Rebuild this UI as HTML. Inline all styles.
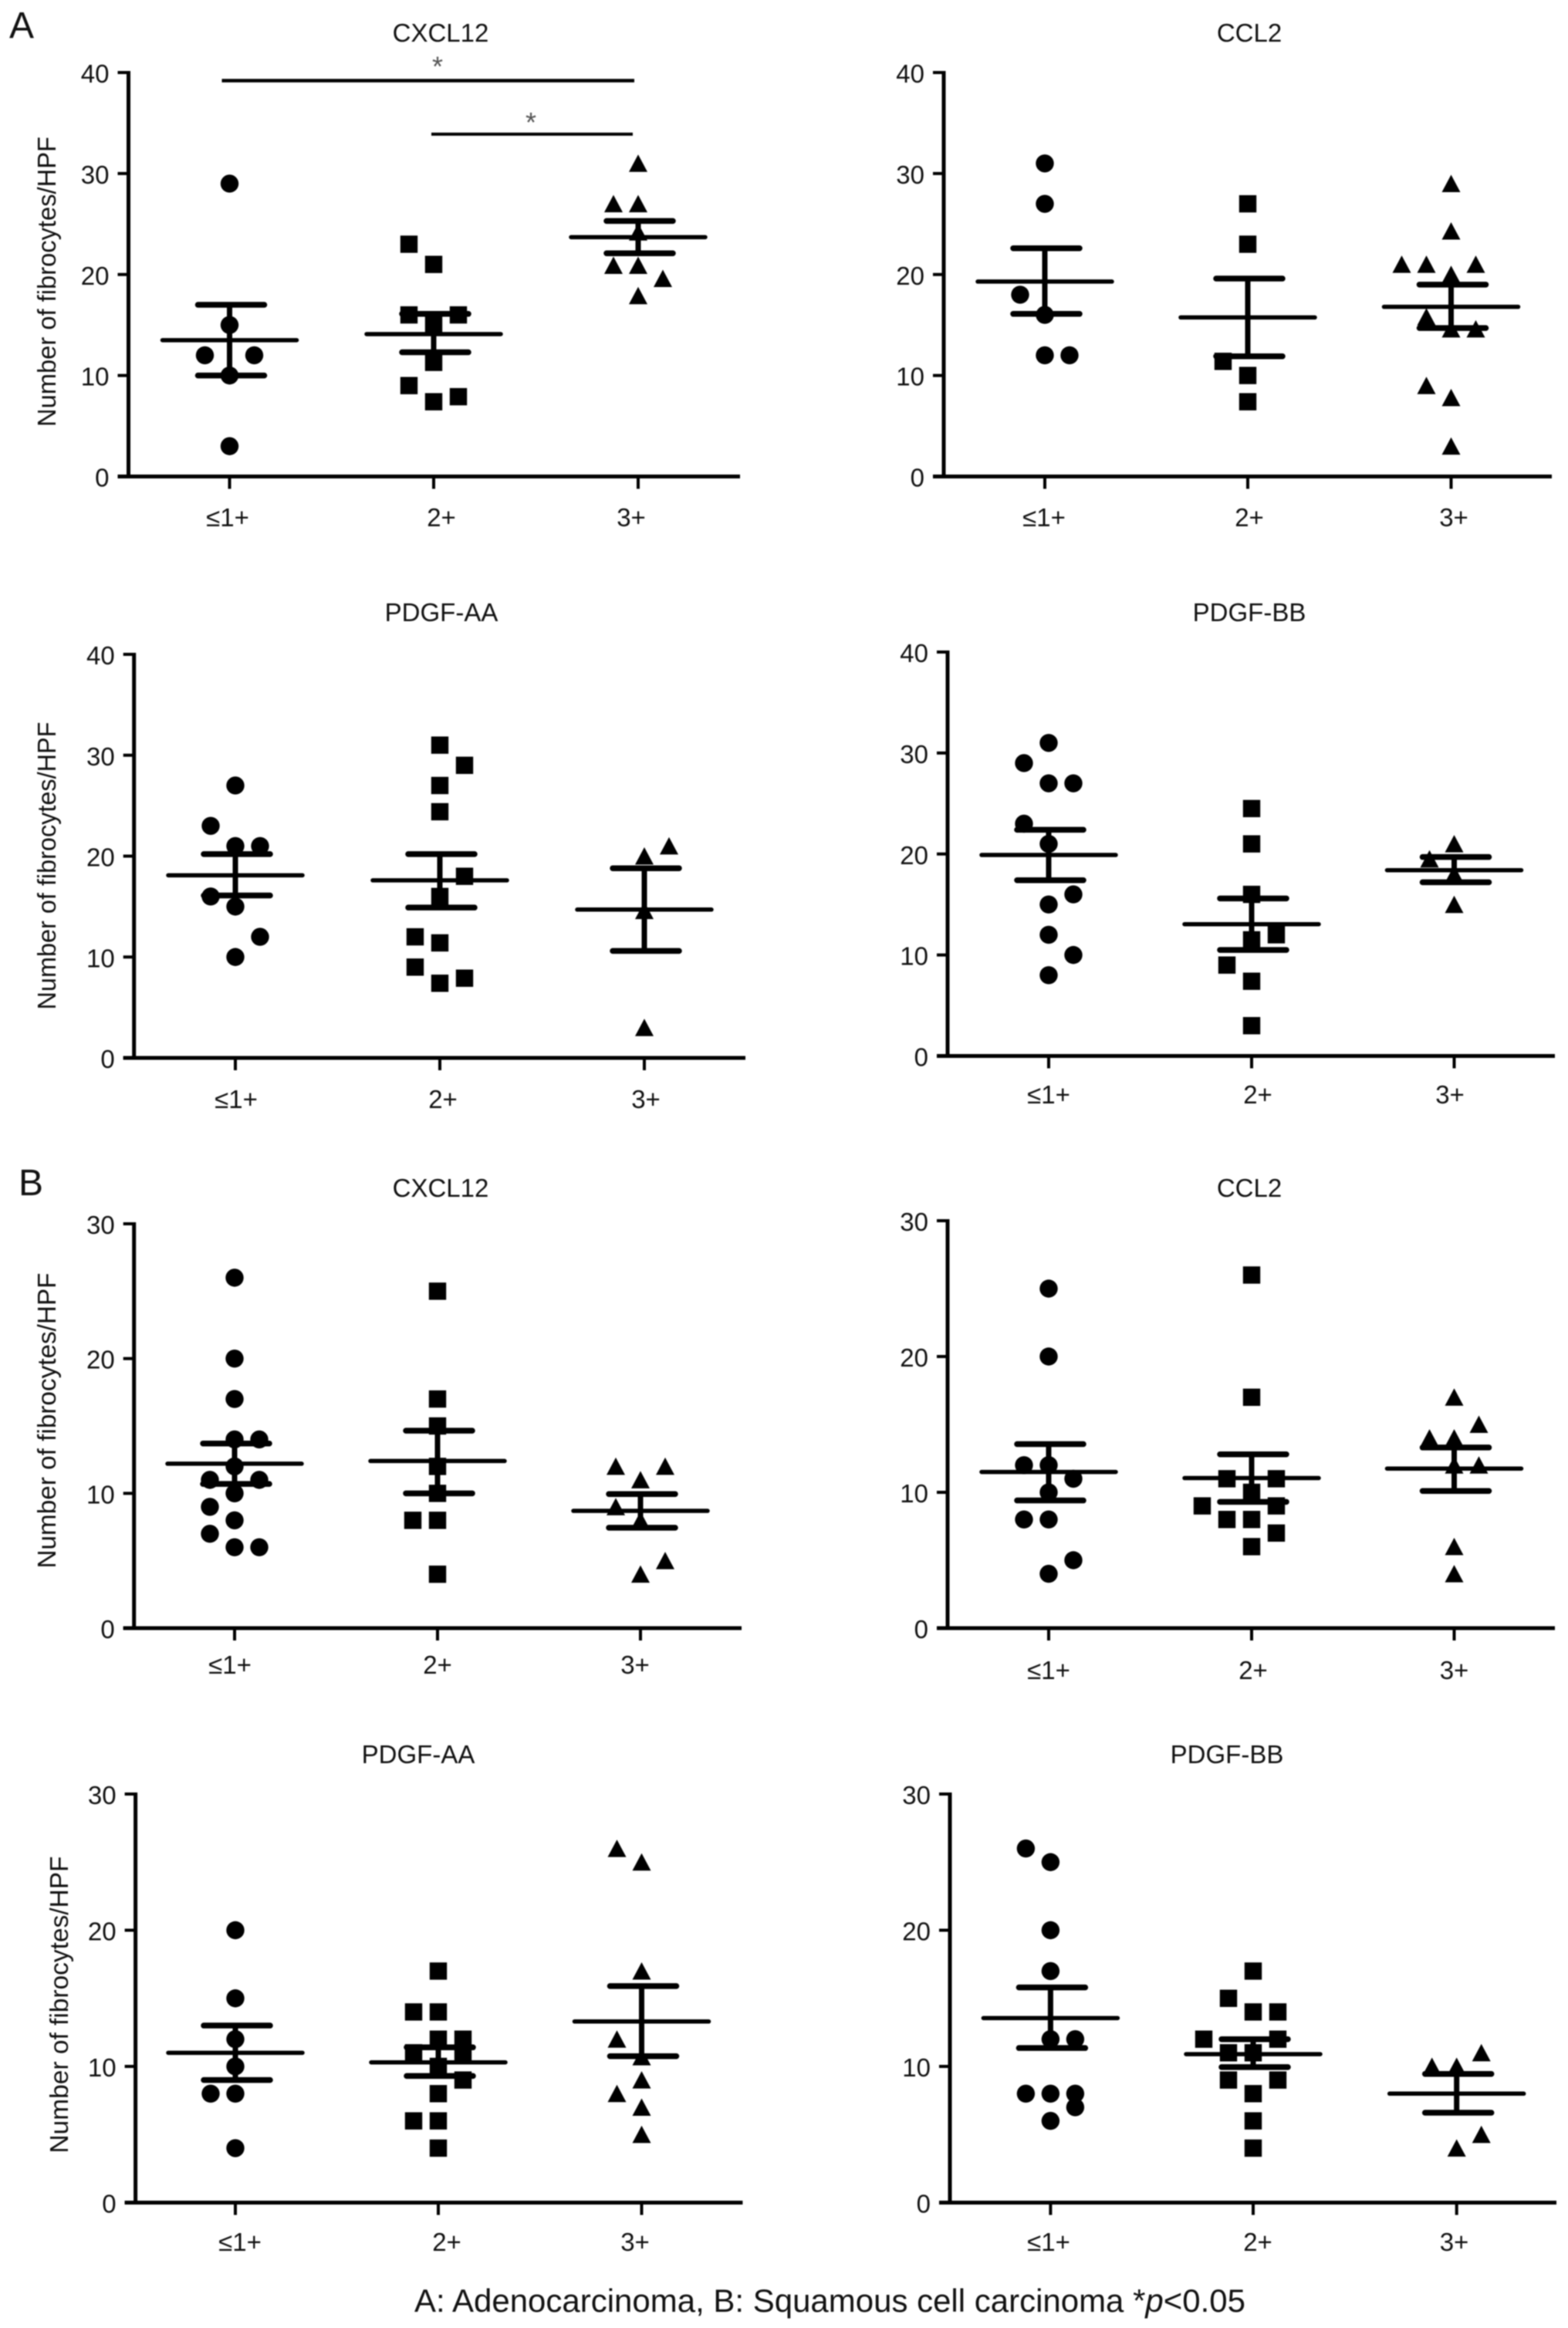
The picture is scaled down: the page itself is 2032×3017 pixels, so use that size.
<!DOCTYPE html>
<html lang="en">
<head>
<meta charset="utf-8">
<title>Fibrocyte counts by chemokine expression</title>
<style>
html,body{margin:0;padding:0;background:#fff;}
svg{display:block;filter:blur(0.9px);}
text{font-family:"Liberation Sans",sans-serif;fill:#111;}
.title,.tick-text,.cat-text{font-size:33px;}
.ylab{font-size:33px;}
</style>
</head>
<body>
<svg id="figure" xmlns="http://www.w3.org/2000/svg" width="2032" height="3017" viewBox="0 0 2032 3017">
<rect width="2032" height="3017" fill="#fff"/>
<text x="12" y="49" font-size="48">A</text>
<text x="24" y="1549" font-size="48">B</text>

<text class="title" x="571" y="54" text-anchor="middle">CXCL12</text>
<text class="title" x="1619" y="54" text-anchor="middle">CCL2</text>
<text class="title" x="572" y="805" text-anchor="middle">PDGF-AA</text>
<text class="title" x="1619" y="805" text-anchor="middle">PDGF-BB</text>
<text class="title" x="571" y="1551" text-anchor="middle">CXCL12</text>
<text class="title" x="1619" y="1551" text-anchor="middle">CCL2</text>
<text class="title" x="542" y="2285" text-anchor="middle">PDGF-AA</text>
<text class="title" x="1590" y="2285" text-anchor="middle">PDGF-BB</text>

<text class="ylab" transform="translate(72,365) rotate(-90)" text-anchor="middle" textLength="376" lengthAdjust="spacingAndGlyphs">Number of fibrocytes/HPF</text>
<text class="ylab" transform="translate(72,1122) rotate(-90)" text-anchor="middle" textLength="373" lengthAdjust="spacingAndGlyphs">Number of fibrocytes/HPF</text>
<text class="ylab" transform="translate(72,1841) rotate(-90)" text-anchor="middle" textLength="383" lengthAdjust="spacingAndGlyphs">Number of fibrocytes/HPF</text>
<text class="ylab" transform="translate(88,2598) rotate(-90)" text-anchor="middle" textLength="385" lengthAdjust="spacingAndGlyphs">Number of fibrocytes/HPF</text>

<text x="537" y="2996" font-size="42" textLength="1077" lengthAdjust="spacingAndGlyphs">A: Adenocarcinoma, B: Squamous cell carcinoma *<tspan font-style="italic">p</tspan>&lt;0.05</text>
<g id="charts"></g>
</svg>
<script>
const categories = ['≤1+', '2+', '3+'];
const ticksA = [0, 10, 20, 30, 40];
const ticksB = [0, 10, 20, 30];

/* stats arrays: mean, upper error, lower error. columns: beeswarm column of each point */
const a1LowValues = [29, 15, 12, 12, 10, 3];
const a1LowColumns = [0, 0, -1, 1, 0, 0];
const a1LowStats = [13.5, 17, 10];
const a1MidValues = [23, 21, 16, 16, 15, 11.3, 9, 7.9, 7.4];
const a1MidColumns = [-1, 0, -1, 1, 0, 0, -1, 1, 0];
const a1MidStats = [14.1, 16.1, 12.3];
const a1HighValues = [31, 27, 27, 24.2, 20.9, 20.9, 19.6, 17.9];
const a1HighColumns = [0, -1, 0, 0, -1, 0, 1, 0];
const a1HighStats = [23.7, 25.3, 22.1];

const a2LowValues = [31, 27, 18, 16, 12, 12];
const a2LowColumns = [0, 0, -1, 0, 0, 1];
const a2LowStats = [19.3, 22.6, 16.1];
const a2MidValues = [27, 23, 11.4, 10, 7.4];
const a2MidColumns = [0, 0, -1, 0, 0];
const a2MidStats = [15.75, 19.6, 11.9];
const a2HighValues = [29, 24.3, 21, 21, 21, 20, 15.8, 14.6, 14.6, 9, 7.8, 3];
const a2HighColumns = [0, 0, -2, -1, 1, 0, -1, 0, 1, -1, 0, 0];
const a2HighStats = [16.8, 19, 14.7];

const a3LowValues = [27, 23, 21, 21, 16, 15, 12, 10];
const a3LowColumns = [0, -1, 0, 1, -1, 0, 1, 0];
const a3LowStats = [18.1, 20.2, 16.1];
const a3MidValues = [31, 29, 27, 24.4, 18, 16, 12, 11.4, 9, 7.9, 7.4];
const a3MidColumns = [0, 1, 0, 0, 1, 0, -1, 0, -1, 1, 0];
const a3MidStats = [17.6, 20.2, 14.9];
const a3HighValues = [21, 20, 14.6, 3];
const a3HighColumns = [1, 0, 0, 0];
const a3HighStats = [14.7, 18.8, 10.6];

const a4LowValues = [31, 29, 27, 27, 23, 21, 16, 15, 12, 10, 8];
const a4LowColumns = [0, -1, 0, 1, -1, 0, 1, 0, 0, 1, 0];
const a4LowStats = [19.9, 22.4, 17.4];
const a4MidValues = [24.5, 21, 16, 12, 11.5, 9, 7.4, 3];
const a4MidColumns = [0, 0, 0, 1, 0, -1, 0, 0];
const a4MidStats = [13.05, 15.6, 10.5];
const a4HighValues = [21, 19.5, 18, 15];
const a4HighColumns = [0, -1, 0, 0];
const a4HighStats = [18.4, 19.7, 17.2];

const b1LowValues = [26, 20, 17, 14, 14, 12, 11, 11, 10, 9, 8, 7, 6, 6];
const b1LowColumns = [0, 0, 0, 0, 1, 0, -1, 1, 0, -1, 0, -1, 0, 1];
const b1LowStats = [12.2, 13.7, 10.7];
const b1MidValues = [25, 17, 15, 12, 10, 8, 8, 4];
const b1MidColumns = [0, 0, 0, 0, 0, -1, 0, 0];
const b1MidStats = [12.4, 14.65, 10];
const b1HighValues = [12, 12, 11, 9, 8, 5, 4];
const b1HighColumns = [-1, 1, 0, -1, 0, 1, 0];
const b1HighStats = [8.7, 9.95, 7.45];

const b2LowValues = [25, 20, 12, 12, 11, 10, 8, 8, 5, 4];
const b2LowColumns = [0, 0, -1, 0, 1, 0, -1, 0, 1, 0];
const b2LowStats = [11.5, 13.55, 9.4];
const b2MidValues = [26, 17, 11, 11, 10, 9, 9, 8, 8, 7, 6];
const b2MidColumns = [0, 0, -1, 1, 0, -2, 1, -1, 0, 1, 0];
const b2MidStats = [11.05, 12.8, 9.3];
const b2HighValues = [17, 15, 14, 14, 12, 12, 6, 4];
const b2HighColumns = [0, 1, -1, 0, 0, 1, 0, 0];
const b2HighStats = [11.75, 13.3, 10.1];

const b3LowValues = [20, 15, 12, 10, 8, 8, 4];
const b3LowColumns = [0, 0, 0, 0, -1, 0, 0];
const b3LowStats = [11, 13, 9];
const b3MidValues = [17, 14, 14, 12, 12, 11, 11, 10, 9, 8, 6, 6, 4];
const b3MidColumns = [0, -1, 0, 0, 1, -1, 1, 0, 1, 0, -1, 0, 0];
const b3MidStats = [10.3, 11.4, 9.3];
const b3HighValues = [26, 25, 17, 12, 10.7, 9, 8, 7, 5];
const b3HighColumns = [-1, 0, 0, -1, 0, 0, -1, 0, 0];
const b3HighStats = [13.3, 15.9, 10.75];

const b4LowValues = [26, 25, 20, 17, 12, 12, 8, 8, 8, 7, 6];
const b4LowColumns = [-1, 0, 0, 0, 0, 1, -1, 0, 1, 1, 0];
const b4LowStats = [13.55, 15.8, 11.35];
const b4MidValues = [17, 15, 14, 14, 12, 12, 11, 11, 9, 9, 8, 6, 4];
const b4MidColumns = [0, -1, 0, 1, -2, 1, -1, 0, -1, 1, 0, 0, 0];
const b4MidStats = [10.9, 12, 9.95];
const b4HighValues = [11, 10, 10, 5, 4];
const b4HighColumns = [1, -1, 0, 1, 0];
const b4HighStats = [8, 9.45, 6.6];

const sigBarValues = [39.2, 33.9];
const sigBarLabels = ['*', '*'];

const panels = [
  { id: 'a-cxcl12', ax: 166.5, end: 959, top: 94, zero: 617.5, cats: [297.5, 562, 827], labs: [295, 572, 818], labY: 682, ticks: ticksA,
    values: [a1LowValues, a1MidValues, a1HighValues], columns: [a1LowColumns, a1MidColumns, a1HighColumns], stats: [a1LowStats, a1MidStats, a1HighStats] },
  { id: 'a-ccl2', ax: 1223, end: 2011, top: 94, zero: 617.5, cats: [1354, 1617, 1880.5], labs: [1353, 1619, 1884], labY: 682, ticks: ticksA,
    values: [a2LowValues, a2MidValues, a2HighValues], columns: [a2LowColumns, a2MidColumns, a2HighColumns], stats: [a2LowStats, a2MidStats, a2HighStats] },
  { id: 'a-pdgf-aa', ax: 173.7, end: 966, top: 848, zero: 1371, cats: [305, 570, 835], labs: [306, 574, 837], labY: 1436, ticks: ticksA,
    values: [a3LowValues, a3MidValues, a3HighValues], columns: [a3LowColumns, a3MidColumns, a3HighColumns], stats: [a3LowStats, a3MidStats, a3HighStats] },
  { id: 'a-pdgf-bb', ax: 1228, end: 2015, top: 845, zero: 1368.5, cats: [1359, 1622, 1884.5], labs: [1359, 1630, 1879], labY: 1430, ticks: ticksA,
    values: [a4LowValues, a4MidValues, a4HighValues], columns: [a4LowColumns, a4MidColumns, a4HighColumns], stats: [a4LowStats, a4MidStats, a4HighStats] },
  { id: 'b-cxcl12', ax: 173.7, end: 961, top: 1586, zero: 2110, cats: [304, 567, 830], labs: [298, 567, 823], labY: 2169, ticks: ticksB,
    values: [b1LowValues, b1MidValues, b1HighValues], columns: [b1LowColumns, b1MidColumns, b1HighColumns], stats: [b1LowStats, b1MidStats, b1HighStats] },
  { id: 'b-ccl2', ax: 1228, end: 2015, top: 1582, zero: 2110, cats: [1359, 1622, 1884.5], labs: [1359, 1624, 1884.5], labY: 2176, ticks: ticksB,
    values: [b2LowValues, b2MidValues, b2HighValues], columns: [b2LowColumns, b2MidColumns, b2HighColumns], stats: [b2LowStats, b2MidStats, b2HighStats] },
  { id: 'b-pdgf-aa', ax: 175.6, end: 962.4, top: 2325, zero: 2854.5, cats: [305, 568, 831.5], labs: [311, 579, 823], labY: 2917, ticks: ticksB,
    values: [b3LowValues, b3MidValues, b3HighValues], columns: [b3LowColumns, b3MidColumns, b3HighColumns], stats: [b3LowStats, b3MidStats, b3HighStats] },
  { id: 'b-pdgf-bb', ax: 1231, end: 2017, top: 2325, zero: 2854.5, cats: [1361.4, 1624, 1887.7], labs: [1359, 1630, 1884.5], labY: 2917, ticks: ticksB,
    values: [b4LowValues, b4MidValues, b4HighValues], columns: [b4LowColumns, b4MidColumns, b4HighColumns], stats: [b4LowStats, b4MidStats, b4HighStats] }
];

const NS = 'http://www.w3.org/2000/svg';
const root = document.getElementById('charts');
const COL_W = 32, MEAN_HALF = 87, CAP_HALF = 43, CAP_SHIFT = 2;
const groupNames = ['low', 'mid', 'high'];

function make(parent, tag, props) {
  const el = document.createElementNS(NS, tag);
  for (const k in props) el.setAttribute(k, props[k]);
  parent.appendChild(el);
  return el;
}
function line(parent, x1, y1, x2, y2, w, cap) {
  return make(parent, 'line', { x1: x1, y1: y1, x2: x2, y2: y2, stroke: '#000', 'stroke-width': w, 'stroke-linecap': cap || 'butt' });
}

panels.forEach(function (p) {
  const maxV = p.ticks[p.ticks.length - 1];
  const yScale = function (v) { return p.zero - v * (p.zero - p.top) / maxV; };
  const g = make(root, 'g', {});
  
  

  const yAxis = line(g, p.ax, p.top - 2, p.ax, p.zero + 2, 5);
  
  
  const xAxis = line(g, p.ax - 14, p.zero, p.end, p.zero, 5);
  
  

  p.ticks.forEach(function (t) {
    const tick = line(g, p.ax - 14, yScale(t), p.ax, yScale(t), 4);
    
    
    const lab = make(g, 'text', { x: p.ax - 25, y: yScale(t) + 13, 'text-anchor': 'end', class: 'tick-text' });
    lab.textContent = t;
    
    
  });

  categories.forEach(function (c, i) {
    const tick = line(g, p.cats[i], p.zero, p.cats[i], p.zero + 16, 4);
    
    
    const lab = make(g, 'text', { x: p.labs[i], y: p.labY, 'text-anchor': 'middle', class: 'cat-text' });
    lab.textContent = c;
    
    
  });

  p.values.forEach(function (vals, gi) {
    const group = make(g, 'g', {});
    
    
    vals.forEach(function (v, i) {
      const cx = p.cats[gi] + p.columns[gi][i] * COL_W;
      const cy = yScale(v);
      let mark;
      if (gi === 0) {
        mark = make(group, 'circle', { cx: cx, cy: cy, r: 11.7, fill: '#000' });
      } else if (gi === 1) {
        mark = make(group, 'rect', { x: cx - 11.2, y: cy - 11.2, width: 22.4, height: 22.4, fill: '#000' });
      } else {
        mark = make(group, 'polygon', { points: (cx - 12) + ',' + (cy + 11) + ' ' + (cx + 12) + ',' + (cy + 11) + ' ' + cx + ',' + (cy - 11.5), fill: '#000' });
      }
      
      
    });
    const s = p.stats[gi];
    const cx = p.cats[gi];
    const meanLine = line(group, cx - MEAN_HALF, yScale(s[0]), cx + MEAN_HALF, yScale(s[0]), 5.5, 'round');
    
    
    const stem = line(group, cx, yScale(s[1]), cx, yScale(s[2]), 7);
    
    
    const capTop = line(group, cx + CAP_SHIFT - CAP_HALF, yScale(s[1]), cx + CAP_SHIFT + CAP_HALF, yScale(s[1]), 7.5, 'round');
    
    
    const capBottom = line(group, cx + CAP_SHIFT - CAP_HALF, yScale(s[2]), cx + CAP_SHIFT + CAP_HALF, yScale(s[2]), 7.5, 'round');
    
    
  });

  if (p.id === 'a-cxcl12') {
    const bar1 = line(g, p.cats[0] - 10, yScale(sigBarValues[0]), p.cats[2] - 5, yScale(sigBarValues[0]), 4.5);
    
    
    const bar2 = line(g, p.cats[1] - 3, yScale(sigBarValues[1]), p.cats[2] - 7, yScale(sigBarValues[1]), 4);
    
    
    const star1 = make(g, 'text', { x: 567, y: yScale(sigBarValues[0]) - 6, 'text-anchor': 'middle', 'font-size': 36, style: 'fill:#555' });
    star1.textContent = sigBarLabels[0];
    
    
    const star2 = make(g, 'text', { x: 688, y: yScale(sigBarValues[1]) - 3, 'text-anchor': 'middle', 'font-size': 36, style: 'fill:#555' });
    star2.textContent = sigBarLabels[1];
    
    
  }
});
</script>
</body>
</html>
